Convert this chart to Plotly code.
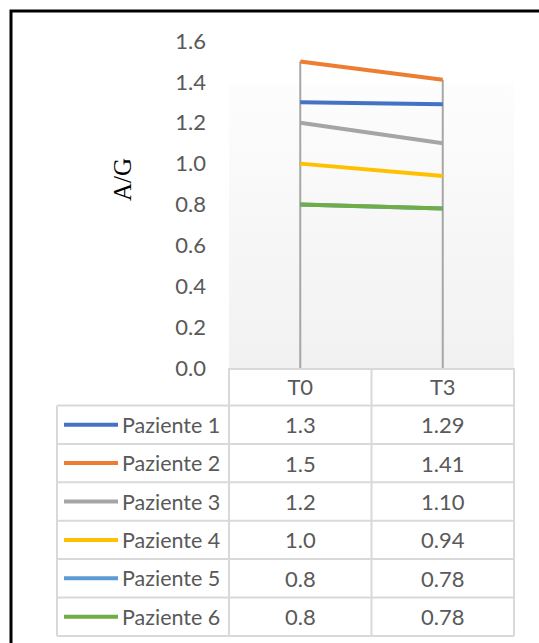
import plotly.graph_objects as go

# ---- data ----
categories = ["T0", "T3"]
patients = ["Paziente 1", "Paziente 2", "Paziente 3", "Paziente 4", "Paziente 5", "Paziente 6"]
t0_values = [1.3, 1.5, 1.2, 1.0, 0.8, 0.8]
t3_values = [1.29, 1.41, 1.10, 0.94, 0.78, 0.78]
y_ticks = [0.0, 0.2, 0.4, 0.6, 0.8, 1.0, 1.2, 1.4, 1.6]
y_title = "A/G"
value_decimals = [1, 2]  # table number format per time point

# ---- styles ----
colors = ["#4472C4", "#ED7D31", "#A5A5A5", "#FFC000", "#5B9BD5", "#70AD47"]
TEXT = "#595959"
GRID = "#d9d9d9"
FONT = "Lato"
FS = 22
FS_LABEL = 21.5

W, H = 539, 643
PLOT_L, PLOT_R = 229, 514
PLOT_T, PLOT_B = 41, 368
TABLE_L = 57
HEADER_B = 405.5
ROW_H = 38.4
KEY_X0, KEY_X1 = 64, 118
LABEL_R = 222


def px(x):
    return x / W


def py(y):
    return 1 - y / H


series = [list(v) for v in zip(t0_values, t3_values)]
x_idx = list(range(len(categories)))

fig = go.Figure()

# plot-area gradient fill
fig.add_trace(go.Scatter(
    x=[-0.5, 1.5, 1.5, -0.5, -0.5], y=[0, 0, 1.39, 1.39, 0],
    mode="lines", line=dict(width=0), fill="toself",
    fillgradient=dict(type="vertical", colorscale=[[0, "#f1f1f1"], [1, "#fdfdfd"]]),
    hoverinfo="skip", showlegend=False,
))

# drop lines from each category's highest value down to the axis
drop_x, drop_y = [], []
for i in x_idx:
    top = max(s[i] for s in series)
    drop_x += [i, i, None]
    drop_y += [0, top, None]
fig.add_trace(go.Scatter(x=drop_x, y=drop_y, mode="lines",
                         line=dict(color="#a6a6a6", width=2),
                         hoverinfo="skip", showlegend=False))

for name, vals, c in zip(patients, series, colors):
    fig.add_trace(go.Scatter(x=x_idx, y=vals, mode="lines", name=name,
                             line=dict(color=c, width=4), showlegend=False))

shapes = []
annotations = []

# outer chart border
shapes.append(dict(type="rect", xref="paper", yref="paper",
                   x0=px(11), x1=px(W + 20), y0=py(11), y1=py(H + 20),
                   line=dict(color="black", width=3)))

# data table grid
n = len(patients)
row_lines = [HEADER_B + k * ROW_H for k in range(n + 1)]
for y in row_lines:
    shapes.append(dict(type="line", xref="paper", yref="paper",
                       x0=px(TABLE_L), x1=px(PLOT_R), y0=py(y), y1=py(y),
                       line=dict(color=GRID, width=2)))
col_w = (PLOT_R - PLOT_L) / len(categories)
for k in range(len(categories) + 1):
    x = PLOT_L + k * col_w
    shapes.append(dict(type="line", xref="paper", yref="paper",
                       x0=px(x), x1=px(x), y0=py(PLOT_B), y1=py(row_lines[-1]),
                       line=dict(color=GRID, width=2)))
shapes.append(dict(type="line", xref="paper", yref="paper",
                   x0=px(TABLE_L), x1=px(TABLE_L), y0=py(HEADER_B), y1=py(row_lines[-1]),
                   line=dict(color=GRID, width=2)))

for r, (name, vals, c) in enumerate(zip(patients, series, colors)):
    yc = HEADER_B + (r + 0.5) * ROW_H
    shapes.append(dict(type="line", xref="paper", yref="paper",
                       x0=px(KEY_X0), x1=px(KEY_X1), y0=py(yc), y1=py(yc),
                       line=dict(color=c, width=4)))
    annotations.append(dict(text=name, xref="paper", yref="paper",
                            x=px(LABEL_R), y=py(yc), xanchor="right", yanchor="middle",
                            showarrow=False, font=dict(family=FONT, size=FS_LABEL, color=TEXT)))
    for k, v in enumerate(vals):
        xc = PLOT_L + (k + 0.5) * col_w
        annotations.append(dict(text=f"{v:.{value_decimals[k]}f}", xref="paper", yref="paper",
                                x=px(xc), y=py(yc), xanchor="center", yanchor="middle",
                                showarrow=False, font=dict(family=FONT, size=FS, color=TEXT)))

annotations.append(dict(text=y_title, xref="paper", yref="paper",
                        x=px(122), y=py(180), xanchor="center", yanchor="middle",
                        textangle=-90, showarrow=False,
                        font=dict(family="Liberation Serif", size=25, color="black")))

fig.update_layout(
    template="none",
    width=W, height=H,
    margin=dict(l=0, r=0, t=0, b=0, pad=0, autoexpand=False),
    paper_bgcolor="white", plot_bgcolor="rgba(0,0,0,0)",
    showlegend=False,
    shapes=shapes, annotations=annotations,
    xaxis=dict(domain=[px(PLOT_L), px(PLOT_R)], range=[-0.5, 1.5], automargin=False,
               tickvals=x_idx, ticktext=categories, showgrid=False, zeroline=False,
               showline=True, linecolor=GRID, linewidth=2, ticks="",
               ticklabelstandoff=-1,
               tickfont=dict(family=FONT, size=FS, color=TEXT)),
    yaxis=dict(domain=[py(PLOT_B), py(PLOT_T)], range=[0, 1.6], automargin=False,
               tickvals=y_ticks, tickformat=".1f", showgrid=False, zeroline=False,
               showline=False, ticks="", ticklabelstandoff=22,
               tickfont=dict(family=FONT, size=FS, color=TEXT)),
)

fig.write_html("out.html")
